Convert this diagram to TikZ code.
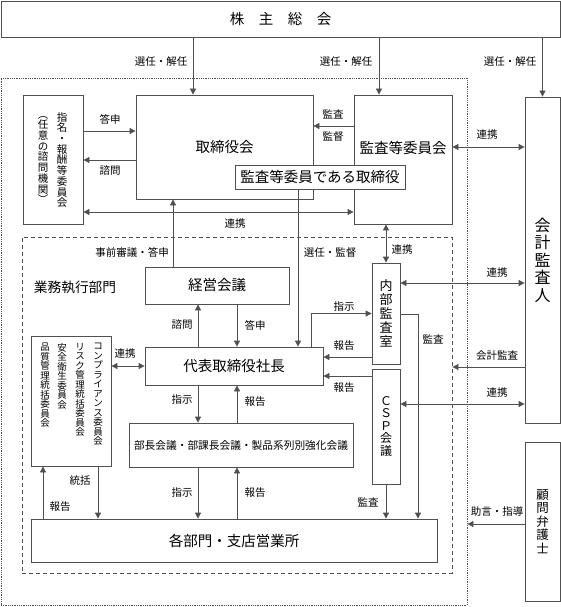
\documentclass[tikz,border=0pt]{standalone}
\usepackage{fontspec}
\setmainfont{Noto Sans CJK JP}
\usetikzlibrary{arrows.meta,positioning}
\definecolor{linegray}{HTML}{505050}
\newcommand{\bigjp}{\fontsize{14.5}{16}\selectfont}

\begin{document}
\begin{tikzpicture}[x=1pt,y=-1pt,
	box/.style={draw=linegray,line width=0.8pt,fill=white,inner sep=0pt,align=center},
	arr/.style={draw=linegray,line width=0.8pt,-{Triangle[length=6pt,width=6pt]}},
	darr/.style={draw=linegray,line width=0.8pt,{Triangle[length=6pt,width=6pt]}-{Triangle[length=6pt,width=6pt]}},
	lbl/.style={font=\fontsize{10.5}{11}\selectfont,inner sep=0pt},
	vcol/.style={align=center,inner sep=0pt,font=\fontsize{9.5}{9.5}\selectfont,anchor=north}]
	\useasboundingbox (0,0) rectangle (561,607);
	% frames
	\node[draw=linegray,densely dotted,line width=0.8pt,minimum width=466pt,minimum height=527pt,inner sep=0pt] (kaisha) at (234,341.5) {};
	\node[draw=linegray,dash pattern=on 4pt off 3pt,line width=0.8pt,minimum width=430pt,minimum height=336pt,inner sep=0pt] (gyomu) at (237,405) {};
	% boxes
	\node[box,minimum width=559pt,minimum height=36pt,font=\bigjp] (soukai) at (280.5,19) {株\hspace{1em}主\hspace{1em}総\hspace{1em}会};
	\node[box,minimum width=177pt,minimum height=104pt,font=\bigjp] (tori) at (224.5,147) {取締役会};
	\node[box,minimum width=60pt,minimum height=129pt] (shimei) at (53,159.5) {};
	\node[vcol,anchor=center,font=\fontsize{10.5}{10.7}\selectfont] (shimeiA) at (62,160) {指\\名\\・\\報\\酬\\等\\委\\員\\会};
	\node[vcol,anchor=center,font=\fontsize{10.5}{10.7}\selectfont] (shimeiB) at (43,160) {︵\\任\\意\\の\\諮\\問\\機\\関\\︶};
	\node[box,minimum width=98pt,minimum height=129pt] (kansa) at (403,159.5) {};
	\node[inner sep=0pt,font=\bigjp] (kansaT) at (403,148) {監査等委員会};
	\node[box,minimum width=170pt,minimum height=24pt,font=\bigjp] (kansatori) at (320,177) {監査等委員である取締役};
	\node[box,minimum width=35pt,minimum height=326pt,font=\fontsize{16}{17.5}\selectfont] (kaikei) at (542.5,260) {会\\計\\監\\査\\人};
	\node[box,minimum width=35pt,minimum height=159pt,font=\fontsize{12.5}{13.5}\selectfont] (komon) at (542.5,521.5) {顧\\問\\弁\\護\\士};
	\node[font=\fontsize{13.7}{15}\selectfont,inner sep=0pt] (gyomuT) at (75,287) {業務執行部門};
	\node[box,minimum width=144pt,minimum height=37pt,font=\bigjp] (keiei) at (217,285.5) {経営会議};
	\node[box,minimum width=178pt,minimum height=38pt,font=\bigjp] (daihyo) at (234,366) {代表取締役社長};
	\node[box,minimum width=80pt,minimum height=130pt] (iinkai) at (71,401) {};
	\node[vcol] (comp) at (98,343) {コ\\ン\\プ\\ラ\\イ\\ア\\ン\\ス\\委\\員\\会};
	\node[vcol] (risk) at (80,343) {リ\\ス\\ク\\管\\理\\統\\括\\委\\員\\会};
	\node[vcol] (anzen) at (62,343) {安\\全\\衛\\生\\委\\員\\会};
	\node[vcol] (hinshitsu) at (45,343) {品\\質\\管\\理\\統\\括\\委\\員\\会};
	\node[box,minimum width=224pt,minimum height=44pt,font=\fontsize{10.7}{12}\selectfont] (bucho) at (241,445) {部長会議・部課長会議・製品系列別強化会議};
	\node[box,minimum width=406pt,minimum height=43pt,font=\bigjp] (kakubu) at (234,540.5) {各部門・支店営業所};
	\node[box,minimum width=28pt,minimum height=101pt,font=\fontsize{13}{14}\selectfont] (naibu) at (386,313.5) {内\\部\\監\\査\\室};
	\node[box,minimum width=28pt,minimum height=115pt,font=\fontsize{12}{12.5}\selectfont] (csp) at (386,426.5) {Ｃ\\Ｓ\\Ｐ\\会\\議};
	% connectors
	\draw[arr] (soukai.south -| 193,0) -- (tori.north -| 193,0);
	\draw[arr] (soukai.south -| 379,0) -- (kansa.north -| 379,0);
	\draw[arr] (soukai.south -| kaikei.north) -- (kaikei.north);
	\draw[arr] (shimei.east |- 0,131) -- (tori.west |- 0,131);
	\draw[arr] (tori.west |- 0,160) -- (shimei.east |- 0,160);
	\draw[arr] (kansa.west |- 0,126) -- (tori.east |- 0,126);
	\draw[darr] (shimei.east |- 0,212) -- (kansa.west |- 0,212);
	\draw[darr] (kansa.east |- 0,147) -- (kaikei.west |- 0,147);
	\draw[arr] (keiei.north -| 173,0) -- (tori.south -| 173,0);
	\draw[arr] (kansatori.south -| 298,0) -- (daihyo.north -| 298,0);
	\draw[darr] (kansa.south -| naibu.north) -- (naibu.north);
	\draw[arr] (daihyo.north -| 198,0) -- (keiei.south -| 198,0);
	\draw[arr] (keiei.south -| 237,0) -- (daihyo.north -| 237,0);
	\draw[darr] (iinkai.east |- daihyo.west) -- (daihyo.west);
	\draw[arr] (daihyo.south -| 198,0) -- (bucho.north -| 198,0);
	\draw[arr] (bucho.north -| 237,0) -- (daihyo.south -| 237,0);
	\draw[arr] (bucho.south -| 198,0) -- (kakubu.north -| 198,0);
	\draw[arr] (kakubu.north -| 237,0) -- (bucho.south -| 237,0);
	\draw[arr] (kakubu.north -| 43,0) -- (iinkai.south -| 43,0);
	\draw[arr] (iinkai.south -| 98,0) -- (kakubu.north -| 98,0);
	\draw[arr] (daihyo.north -| 311,0) |- (naibu.west);
	\draw[arr] (naibu.west |- 0,357) -- (daihyo.east |- 0,357);
	\draw[arr] (csp.west |- 0,376) -- (daihyo.east |- 0,376);
	\draw[arr] (naibu.east |- 0,314) -| (kakubu.north -| 418,0);
	\draw[arr] (csp.south) -- (kakubu.north -| csp.south);
	\draw[darr] (naibu.east |- 0,283) -- (kaikei.west |- 0,283);
	\draw[arr] (kaikei.west |- 0,367) -- (gyomu.east |- 0,367);
	\draw[darr] (csp.east |- 0,404) -- (kaikei.west |- 0,404);
	\draw[arr] (komon.west |- 0,524) -- (kaisha.east |- 0,524);
	% labels
	\node[lbl] (l1) at (161,62) {選任・解任};
	\node[lbl] (l2) at (346,62) {選任・解任};
	\node[lbl] (l3) at (510,62) {選任・解任};
	\node[lbl] (l4) at (110,119) {答申};
	\node[lbl] (l5) at (110,171) {諮問};
	\node[lbl] (l6) at (333,114) {監査};
	\node[lbl] (l7) at (333,137) {監督};
	\node[lbl] (l8) at (235,224) {連携};
	\node[lbl] (l9) at (487,135) {連携};
	\node[lbl] (l10) at (132,252) {事前審議・答申};
	\node[lbl] (l11) at (330,253) {選任・監督};
	\node[lbl] (l12) at (402,250) {連携};
	\node[lbl] (l13) at (182,325) {諮問};
	\node[lbl] (l14) at (255,325) {答申};
	\node[lbl] (l15) at (125,354) {連携};
	\node[lbl] (l16) at (182,400) {指示};
	\node[lbl] (l17) at (255,402) {報告};
	\node[lbl] (l18) at (182,493) {指示};
	\node[lbl] (l19) at (255,493) {報告};
	\node[lbl] (l20) at (80,481) {統括};
	\node[lbl] (l21) at (60,507) {報告};
	\node[lbl] (l22) at (344,307) {指示};
	\node[lbl] (l23) at (344,346) {報告};
	\node[lbl] (l24) at (344,388) {報告};
	\node[lbl] (l25) at (433,339) {監査};
	\node[lbl] (l26) at (368,502) {監査};
	\node[lbl] (l27) at (497,273) {連携};
	\node[lbl] (l28) at (497,356) {会計監査};
	\node[lbl] (l29) at (497,393) {連携};
	\node[lbl] (l30) at (497,512) {助言・指導};
\end{tikzpicture}
\end{document}
